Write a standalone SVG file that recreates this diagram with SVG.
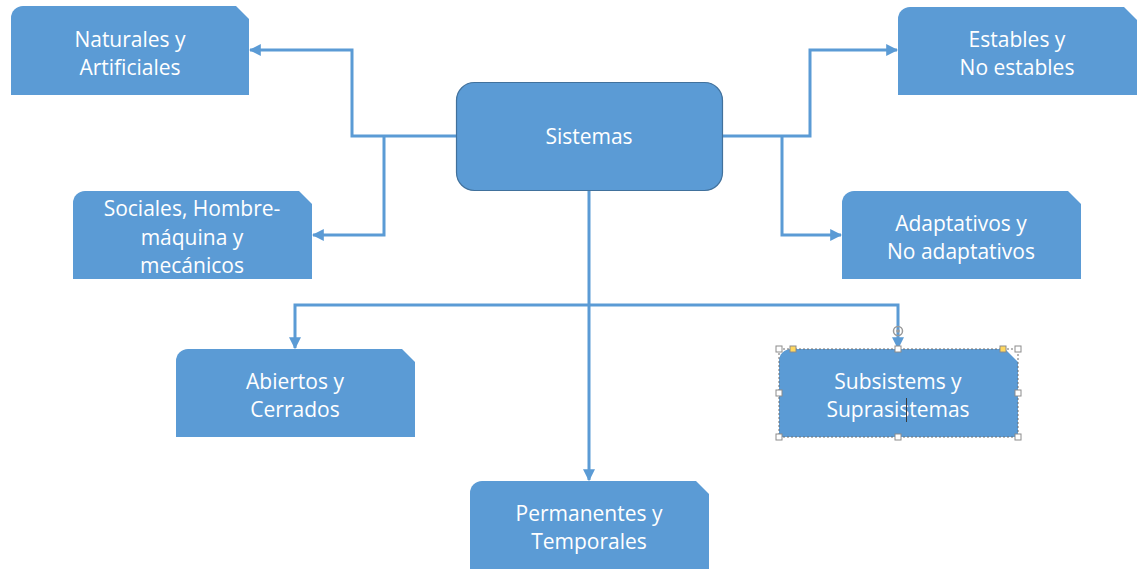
<svg xmlns="http://www.w3.org/2000/svg" width="1139" height="569" viewBox="0 0 1139 569">
  <defs>
    <style>
      .box { fill: #5b9bd5; }
      .hub { fill: #5b9bd5; stroke: #41719c; stroke-width: 1.2; }
      .lbl { fill: #ffffff; font-family: "Open Sans", "Liberation Sans", sans-serif; font-size: 21px; text-anchor: middle; }
      .wire { fill: none; stroke: #5b9bd5; stroke-width: 3; stroke-linejoin: miter; }
      .handle { fill: #ffffff; stroke: #8c8c8c; stroke-width: 1; }
      .adj { fill: #ffd75e; stroke: #8c8c8c; stroke-width: 1; }
    </style>
    <marker id="arrow" viewBox="0 0 10 10" refX="9" refY="5" markerWidth="12" markerHeight="12" markerUnits="userSpaceOnUse" orient="auto">
      <path d="M0,0 L10,5 L0,10 Z" fill="#5b9bd5"/>
    </marker>
  </defs>

  <rect width="1139" height="569" fill="#ffffff"/>

  <!-- connectors -->
  <g id="connectors">
    <path class="wire" d="M456,136 H352 V50 H250" marker-end="url(#arrow)"/>
    <path class="wire" d="M384,136 V235 H313" marker-end="url(#arrow)"/>
    <path class="wire" d="M723,136 H810 V50 H897" marker-end="url(#arrow)"/>
    <path class="wire" d="M782,136 V235 H841" marker-end="url(#arrow)"/>
    <path class="wire" d="M589,191 V480" marker-end="url(#arrow)"/>
    <path class="wire" d="M589,305 H295 V348" marker-end="url(#arrow)"/>
    <path class="wire" d="M589,305 H898 V348" marker-end="url(#arrow)"/>
  </g>

  <!-- central node -->
  <g id="sistemas">
    <rect class="hub" x="456.5" y="82.5" width="266" height="108" rx="18"/>
    <text class="lbl" x="589" y="144">Sistemas</text>
  </g>

  <g id="naturales">
    <path class="box" d="M11,95 V18 A12,12 0 0 1 23,6 H236 L249,19 V95 Z"/>
    <text class="lbl" x="130" y="47">Naturales y</text>
    <text class="lbl" x="130" y="75">Artificiales</text>
  </g>

  <g id="estables">
    <path class="box" d="M898,95 V19 A12,12 0 0 1 910,7 H1124 L1137,20 V95 Z"/>
    <text class="lbl" x="1017" y="47">Estables y</text>
    <text class="lbl" x="1017" y="75">No estables</text>
  </g>

  <g id="sociales">
    <path class="box" d="M73,279 V203 A12,12 0 0 1 85,191 H299 L312,204 V279 Z"/>
    <text class="lbl" x="192" y="216">Sociales, Hombre-</text>
    <text class="lbl" x="192" y="245">máquina y</text>
    <text class="lbl" x="192" y="273">mecánicos</text>
  </g>

  <g id="adaptativos">
    <path class="box" d="M842,279 V203 A12,12 0 0 1 854,191 H1068 L1081,204 V279 Z"/>
    <text class="lbl" x="961" y="231">Adaptativos y</text>
    <text class="lbl" x="961" y="259">No adaptativos</text>
  </g>

  <g id="abiertos">
    <path class="box" d="M176,437 V361 A12,12 0 0 1 188,349 H402 L415,362 V437 Z"/>
    <text class="lbl" x="295" y="389">Abiertos y</text>
    <text class="lbl" x="295" y="417">Cerrados</text>
  </g>

  <g id="subsistemas">
    <path class="box" d="M779,437 V361 A12,12 0 0 1 791,349 H1005 L1018,362 V437 Z"/>
    <text class="lbl" x="898" y="389">Subsistems y</text>
    <text class="lbl" x="898" y="417">Suprasistemas</text>
    <!-- text caret -->
    <line x1="906.5" y1="398" x2="906.5" y2="422" stroke="#3a3a3a" stroke-width="1"/>
    <!-- selection frame -->
    <rect x="779" y="349" width="239" height="88" fill="none" stroke="#6e6e6e" stroke-width="1" stroke-dasharray="2,2"/>
    <rect class="handle" x="776" y="346" width="6" height="6"/>
    <rect class="handle" x="895" y="346" width="6" height="6"/>
    <rect class="handle" x="1015" y="346" width="6" height="6"/>
    <rect class="handle" x="776" y="390" width="6" height="6"/>
    <rect class="handle" x="1015" y="390" width="6" height="6"/>
    <rect class="handle" x="776" y="434" width="6" height="6"/>
    <rect class="handle" x="895" y="434" width="6" height="6"/>
    <rect class="handle" x="1015" y="434" width="6" height="6"/>
    <rect class="adj" x="790" y="346" width="6" height="6"/>
    <rect class="adj" x="1000" y="346" width="6" height="6"/>
    <!-- rotation handle -->
    <circle cx="898" cy="331" r="4.5" fill="none" stroke="#9a9a9a" stroke-width="1.5"/>
    <circle cx="898" cy="331" r="1.8" fill="#9a9a9a"/>
  </g>

  <g id="permanentes">
    <path class="box" d="M470,571 V493 A12,12 0 0 1 482,481 H696 L709,494 V571 Z"/>
    <text class="lbl" x="589" y="521">Permanentes y</text>
    <text class="lbl" x="589" y="549">Temporales</text>
  </g>
</svg>
